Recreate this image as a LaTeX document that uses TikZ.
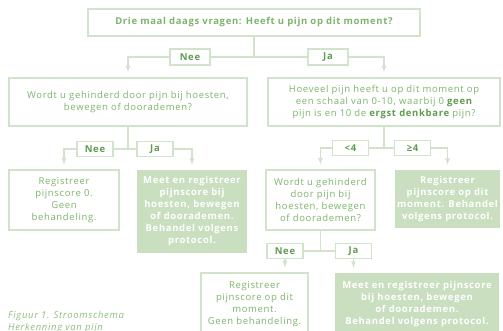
\documentclass[tikz,border=0pt]{standalone}
\usepackage{fontspec}
\setmainfont{Open Sans}[LetterSpace=7]
\usetikzlibrary{positioning}
\definecolor{lineGreen}{HTML}{D2E3CB}
\definecolor{txtGreen}{HTML}{7DB46C}
\definecolor{darkGreen}{HTML}{5E9C4E}
\definecolor{fillGreen}{HTML}{C9DFC0}
\definecolor{capGreen}{HTML}{8DBF7E}
\newcommand{\txtsize}{\fontsize{9.5}{12}\selectfont}
\begin{document}
\begin{tikzpicture}[x=1pt,y=-1pt,>=latex,
                    every node/.style={font=\txtsize, align=center, inner sep=0pt},
                    qbox/.style={draw=lineGreen, line width=1.2pt, fill=white, text=txtGreen},
                    actbox/.style={fill=fillGreen, text=white, font=\txtsize\bfseries},
                    lbl/.style={draw=lineGreen, line width=1.2pt, fill=white, text=darkGreen,
                                font=\txtsize\bfseries, minimum width=36pt, minimum height=15pt},
                    conn/.style={draw=lineGreen, line width=1.2pt},
                    arr/.style={conn, ->, shorten >=5pt}]
\clip (0,0) rectangle (503,331);
\fill[white] (0,0) rectangle (503,331);
% questions
\node[qbox, minimum width=332pt, minimum height=27pt, font=\txtsize\bfseries] (pain) at (254,22.5)
  {Drie maal daags vragen: Heeft u pijn op dit moment?};
\node[qbox, minimum width=238pt, minimum height=48pt] (hinderL) at (128,102)
  {Wordt u gehinderd door pijn bij hoesten,\\ bewegen of doorademen?};
\node[qbox, minimum width=232pt, minimum height=48pt] (scale) at (384,102)
  {Hoeveel pijn heeft u op dit moment op\\ een schaal van 0-10, waarbij 0 \textcolor{darkGreen}{\bfseries geen}\\
   pijn is en 10 de \textcolor{darkGreen}{\bfseries ergst denkbare} pijn?};
\node[qbox, minimum width=110pt, minimum height=60pt] (regzero) at (64,200)
  {Registreer\\ pijnscore 0.\\ Geen\\ behandeling.};
\node[actbox, minimum width=110pt, minimum height=83pt] (measL) at (192,211.5)
  {Meet en registreer\\ pijnscore bij\\ hoesten, bewegen\\ of doorademen.\\ Behandel volgens\\ protocol.};
\node[qbox, minimum width=109pt, minimum height=60pt] (hinderR) at (320.5,200)
  {Wordt u gehinderd\\ door pijn bij\\ hoesten, bewegen\\ of doorademen?};
\node[actbox, minimum width=105pt, minimum height=58pt] (regproto) at (447.5,199)
  {Registreer\\ pijnscore op dit\\ moment. Behandel\\ volgens protocol.};
\node[qbox, minimum width=107pt, minimum height=62pt] (regnow) at (254.5,304)
  {Registreer\\ pijnscore op dit\\ moment.\\ Geen behandeling.};
\node[actbox, minimum width=164pt, minimum height=62pt] (measR) at (417,304)
  {Meet en registreer pijnscore\\ bij hoesten, bewegen\\ of doorademen.\\ Behandel volgens protocol.};
% answers
\node[lbl, minimum width=40pt, minimum height=16pt] (nee0) at (190,57) {Nee};
\node[lbl, minimum width=40pt, minimum height=16pt] (ja0) at (328,57) {Ja};
\node[lbl] (nee1) at (95,149) {Nee};
\node[lbl] (ja1) at (155,149) {Ja};
\node[lbl] (lt4) at (350.5,148) {<4};
\node[lbl] (ge4) at (412.5,148) {≥4};
\node[lbl] (nee3) at (285,251) {Nee};
\node[lbl] (ja3) at (353.5,251) {Ja};
\coordinate (j0) at (254,57);
\coordinate (j1) at (128,149);
\coordinate (j2) at (384,148);
\coordinate (j3) at (320.5,251);
% connectors
\draw[conn] (pain) -- (j0);
\draw[arr] (j0) -- (nee0) -| (hinderL);
\draw[arr] (j0) -- (ja0) -| (scale);
\draw[conn] (hinderL) -- (j1);
\draw[arr] (j1) -- (nee1) -| (regzero);
\draw[arr] (j1) -- (ja1) -| (measL);
\draw[conn] (scale) -- (j2);
\draw[arr] (j2) -- (lt4) -| (hinderR);
\draw[arr] (j2) -- (ge4) -| (regproto);
\draw[conn] (hinderR) -- (j3);
\draw[conn] (j3) -- (nee3);
\draw[conn] (j3) -- (ja3);
\draw[arr] (nee3) -- (nee3 |- regnow.north);
\draw[arr] (ja3) -- (ja3 |- measR.north);
% caption
\node[anchor=north west, align=left, text=capGreen, font=\txtsize\itshape] (caption) at (8,311)
  {Figuur 1. Stroomschema\\ Herkenning van pijn};
\end{tikzpicture}
\end{document}
